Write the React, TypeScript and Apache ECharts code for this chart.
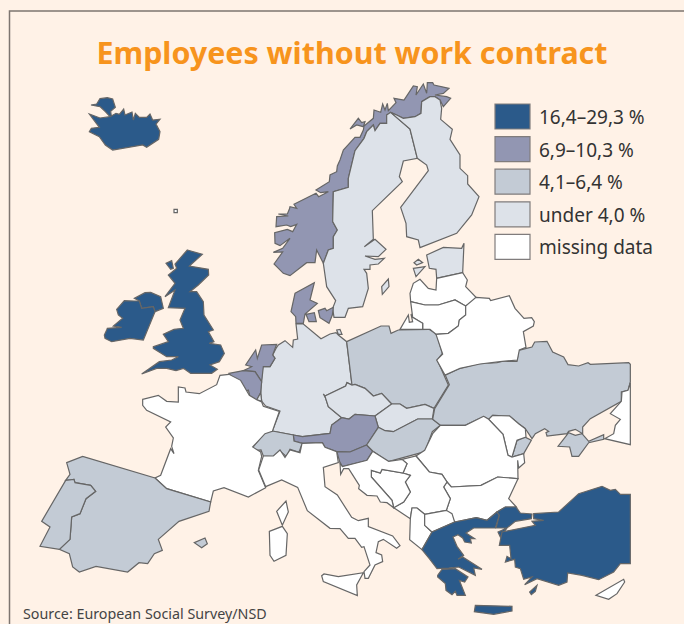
import React, { useEffect, useRef } from "react";
import * as echarts from "echarts";

const title = "Employees without work contract";
const source = "Source: European Social Survey/NSD";
const legendLabels = ["16,4–29,3 %", "6,9–10,3 %", "4,1–6,4 %", "under 4,0 %", "missing data"];
const classColors = ["#2B5A8A", "#9296B2", "#C3CBD5", "#DDE2E9", "#FFFFFF"];

const class0 = ["Iceland", "United Kingdom", "Ireland", "Northern Ireland", "Greece", "Turkey", "Turkey Europe"];
const class1 = ["Norway", "Denmark", "Netherlands", "Belgium", "Austria", "Slovenia"];
const class2 = ["Spain", "Portugal", "Poland", "Hungary", "Ukraine", "Switzerland"];
const class3 = ["Sweden", "Finland", "Germany", "Luxembourg", "Czechia", "Slovakia", "Estonia"];
const class4 = ["Faroe", "France", "Italy", "Croatia", "Bosnia", "Serbia", "Romania", "Moldova", "Bulgaria", "Macedonia", "Albania", "Latvia", "Lithuania", "Kaliningrad", "Belarus", "Russia", "Cyprus"];
const classes = [class0, class1, class2, class3, class4];

// Outline traces, in zoomed-crop units (3x) from a crop origin.
type Outline = [number, number, number[]];
const Z1: [number, number] = [0, 0];
const Z3: [number, number] = [0, 312];
const Z4: [number, number] = [342, 312];
const Z5: [number, number] = [225, 270];
const Z6: [number, number] = [100, 240];
const Z7: [number, number] = [260, 80];
const Z8: [number, number] = [250, 430];
const Z9: [number, number] = [400, 240];

const outlines: Record<string, Outline[]> = {
  Iceland: [[...Z1, [300,296,322,293,338,297,346,322,332,334,334,348,348,340,358,343,371,327,375,345,396,336,400,360,406,340,418,352,440,352,450,342,458,360,480,358,468,372,480,395,476,418,440,442,428,435,338,450,316,435,298,410,268,395,274,385,298,382,268,342,300,354,330,350,316,335,300,320,273,315,290,312]]],
  Faroe: [[...Z1, [522,628,532,628,532,638,522,638]]],
  "United Kingdom": [
    [...Z6, [262,30,307,43,268,78,325,88,326,105,295,135,270,155,290,155,310,185,312,225,340,270,325,275,342,305,328,310,362,315,373,340,358,365,330,375,352,388,335,400,272,400,250,385,228,392,200,385,170,385,125,402,178,365,215,360,235,350,200,350,160,325,160,320,205,305,190,283,222,268,250,265,240,240,255,205,205,203,225,150,195,170,225,130,205,105,230,85,225,72]],
    [...Z6, [198,70,215,62,220,85,212,88]],
  ],
  "Northern Ireland": [[...Z6, [103,175,135,158,152,157,182,170,190,205,165,215,160,200,125,205,118,183]]],
  Ireland: [[...Z6, [50,208,73,182,103,183,118,183,125,205,160,200,165,215,130,300,90,295,35,305,15,295,13,285,20,270,22,265,65,262,40,258,68,235,55,225]]],
  Norway: [
    [...Z7, [42,552,68,516,40,517,68,505,90,475,60,497,45,490,44,458,82,448,98,455,110,433,92,440,80,435,48,440,50,410,85,408,55,402,82,402,88,388,90,380,110,385,102,373,168,340,176,350,205,335,182,338,168,330,208,305,210,285,230,275,232,258,240,240,250,210,285,172,300,172,310,150,312,138,340,115,342,90,362,97,368,72,375,90,382,70,385,92,408,68,402,55,432,60,460,18,472,20,468,45,490,12,500,40,502,8,518,8,522,15,567,25,550,40,525,45,560,50,572,55,550,80,540,60,525,50,510,50,485,65,483,100,465,110,430,115,410,105,392,97,380,105,380,130,360,130,345,152,340,135,320,155,312,175,285,212,265,295,265,322,220,335,218,425,232,450,220,470,220,505,205,510,190,550,170,510,165,548,140,548,90,587,70,580]],
    [...Z7, [270,147,295,115,305,128,315,125,310,140,290,135]],
  ],
  Sweden: [
    [...Z7, [392,97,450,147,472,235,430,243,418,290,427,305,337,392,340,478,313,500,345,478,378,508,355,530,315,528,345,538,373,535,355,552,330,555,330,568,312,568,320,580,325,625,308,680,265,685,255,712,222,712,218,685,227,662,200,620,190,550,205,510,220,505,220,470,232,450,218,425,220,335,265,322,265,295,285,212,312,175,320,155,340,135,345,152,360,130,380,130,380,105]],
    [...Z7, [365,620,385,597,387,620,367,643]],
  ],
  Finland: [[...Z7, [392,97,410,105,430,115,465,110,483,100,485,65,510,50,525,50,540,60,545,85,542,118,577,148,570,178,600,225,600,265,623,287,623,312,657,350,635,405,590,460,480,503,475,480,440,470,438,430,422,382,505,272,500,255,472,235,450,147]]],
  Denmark: [
    [...Z5, [210,70,268,38,255,90,277,100,240,132,235,160,213,160,212,140,198,125]],
    [...Z5, [243,133,268,128,274,155,252,155]],
    [...Z5, [280,122,300,115,305,122,325,112,322,135,312,160,285,143]],
  ],
  Germany: [
    [...Z5, [213,162,235,162,288,206,315,192,333,188,340,195,365,215,381,345,366,338,362,348,300,378,295,372,302,385,310,410,350,443,320,465,315,490,232,500,205,495,142,483,165,423,122,408,110,393,107,368,112,290,135,290,150,265,143,255,155,232,160,225,180,212,203,232,205,210,218,207]],
    [...Z5, [335,180,345,178,351,193,340,193]],
  ],
  Netherlands: [[...Z5, [110,225,155,223,143,255,150,265,135,290,115,290,110,335,90,305,55,302,80,290,62,285,92,240,97,265]]],
  Belgium: [[...Z5, [12,310,55,302,90,305,110,335,107,368,95,390,75,380,70,360,50,368,45,345]]],
  Luxembourg: [[...Z5, [95,390,107,368,110,393]]],
  Poland: [[...Z5, [365,215,468,168,492,168,498,190,520,180,612,178,635,192,652,250,637,270,670,345,627,415,600,403,545,415,525,402,500,402,470,370,445,378,420,355,390,343,381,345]]],
  Czechia: [[...Z5, [300,378,362,348,366,338,381,345,390,343,420,355,445,378,470,370,500,402,450,438,390,433,372,447,350,443,310,410,302,385]]],
  Slovakia: [[...Z5, [450,438,500,402,525,402,545,415,600,403,627,415,622,447,578,447,505,485,480,482,460,472]]],
  Austria: [[...Z5, [205,495,232,500,315,490,320,465,350,443,372,447,390,433,450,438,460,472,425,525,375,546,335,545,300,532,292,518,232,520,207,513]]],
  Slovenia: [[...Z5, [335,545,375,546,425,525,443,543,425,572,352,590,345,578,337,550]]],
  Hungary: [[...Z5, [425,525,460,472,480,482,505,485,578,447,622,447,647,465,622,485,600,545,490,575,443,543]]],
  Switzerland: [[...Z5, [122,484,142,483,205,495,207,513,232,520,222,547,195,538,185,560,165,543,145,560,115,558,108,540,85,542,85,530]]],
  Ukraine: [
    [...Z4, [310,190,350,170,410,155,465,152,478,148,525,148,530,115,570,105,578,90,615,88,632,120,665,135,678,158,710,162,738,152,745,157,860,152,865,157,865,210,858,235,838,240,838,268,745,320,722,345,722,365,700,352,680,358,675,365,615,372,612,362,620,358,608,350,580,365,570,380,550,350,530,335,503,312,452,310,440,322,425,313,370,340,295,340,272,322,278,290,322,218]],
    [...Z4, [510,435,525,385,548,375,568,385,545,425]],
    [...Z4, [648,403,680,362,700,370,720,365,740,388,785,368,785,382,740,392,710,433,690,433,683,405]],
  ],
  Moldova: [[...Z4, [440,322,452,310,503,312,530,335,550,350,552,375,525,385,510,435,498,430,483,367]]],
  Russia: [[...Z4, [865,212,858,235,840,240,838,268,805,305,835,322,820,340,815,365,788,380,865,398]]],
  Romania: [[...Z4, [295,340,370,340,425,313,440,322,483,367,498,430,510,435,545,425,548,452,530,468,527,445,528,500,467,495,417,520,328,525,315,510,300,487,262,480,222,432,248,415,272,365]]],
  Bulgaria: [[...Z4, [328,525,417,520,467,495,528,500,500,560,523,585,490,585,465,600,435,625,403,617,338,630,313,595,325,560,305,525,315,510]]],
  Serbia: [[...Z4, [222,432,262,480,300,487,315,510,305,525,325,560,313,595,248,607,225,588,210,588,205,620,155,587,185,570,205,540,190,510,205,490,183,483,195,455,180,442]]],
  Bosnia: [[...Z4, [88,475,115,483,120,472,183,483,205,490,190,510,205,540,185,570,155,587,150,565,88,495]]],
  Croatia: [[...Z4, [-6,452,1,464,75,445,92,418,140,448,180,442,195,455,183,483,120,472,115,483,88,475,88,495,150,565,155,587,135,572,115,570,105,552,75,550,50,530,52,520,20,470,5,470,-4,487]]],
  Albania: [[...Z4, [210,588,225,588,248,607,248,640,270,660,240,713,203,683,205,620]]],
  Macedonia: [[...Z4, [248,607,313,595,330,605,338,630,270,660,248,640]]],
  Greece: [
    [...Z4, [240,713,270,660,338,630,403,617,435,625,465,600,472,610,460,648,395,648,372,663,398,680,385,680,388,693,368,690,362,678,348,668,333,675,345,703,365,730,348,742,362,735,420,772,395,768,400,790,350,765,320,768,285,770,262,740]],
    [...Z4, [287,790,300,772,340,770,378,795,368,810,352,805,370,850,345,850,340,838,330,848,312,835,310,815,287,795]],
    [...Z4, [400,880,510,883,510,897,455,907,397,899]],
    [...Z4, [563,840,585,820,580,838,568,848]],
  ],
  "Turkey Europe": [
    [...Z4, [465,600,490,585,522,585,535,603,570,606,568,620,520,628,495,648,462,648,472,610]],
    [...Z4, [468,660,495,648,475,675]],
  ],
  Turkey: [[...Z4, [575,605,650,600,710,545,780,523,805,535,820,532,835,547,865,547,865,755,835,755,815,780,770,803,720,790,677,783,675,810,650,820,585,800,548,818,570,795,545,802,535,770,520,765,518,742,490,750,495,733,507,740,503,700,472,700,480,660,580,640,570,628,605,625,575,620]]],
  Cyprus: [[...Z4, [762,850,845,802,848,810,825,845,800,862]]],
  Estonia: [
    [...Z9, [80,45,130,22,185,25,192,10,188,98,110,115,108,88,88,85]],
    [...Z9, [42,68,55,58,68,68,50,75]],
    [...Z9, [40,85,75,80,48,110]],
  ],
  Latvia: [[...Z9, [30,160,40,130,60,118,85,145,108,150,110,115,188,98,202,120,197,140,228,172,212,190,197,198,165,180,115,195,75,195,32,185]]],
  Lithuania: [[...Z9, [32,185,75,195,115,195,165,180,197,198,197,225,178,240,175,258,145,280,108,283,90,268,68,268,68,250,38,232]]],
  Kaliningrad: [[...Z9, [0,268,25,225,28,247,38,245,33,222,38,232,68,250,68,268]]],
  Belarus: [[...Z9, [197,198,228,172,268,175,272,182,328,167,345,205,372,235,395,233,403,245,400,258,370,275,378,322,358,330,352,360,300,365,240,372,180,385,135,405,110,360,128,342,108,283,145,280,175,258,178,240,197,225]]],
  France: [[...Z3, [428,262,475,250,500,268,535,270,535,225,555,228,558,240,598,245,650,218,660,190,687,187,722,205,748,250,770,263,785,270,790,283,838,298,817,358,795,365,758,405,782,420,785,433,775,475,797,527,745,555,672,527,640,537,632,570,500,530,465,498,482,490,512,410,522,425,515,403,520,378,497,345,512,330,440,295,428,280]]],
  Spain: [
    [...Z3, [200,452,248,433,465,498,500,530,632,570,627,598,537,628,475,682,487,715,463,725,443,755,417,752,383,780,288,763,238,780,218,765,208,725,178,712,210,682,215,615,240,605,258,560,287,538,272,520,225,512,222,502,197,505,210,487]],
    [...Z3, [583,692,615,678,622,695,605,707]],
  ],
  Portugal: [[...Z3, [197,505,222,502,225,512,272,520,287,538,258,560,240,605,215,615,210,682,178,712,120,703,150,645,125,628]]],
  Italy: [
    [...Z8, [40,78,70,78,90,60,105,82,120,60,150,68,156,40,217,38,225,52,260,65,265,98,220,112,225,170,262,195,305,262,325,272,355,265,355,290,428,318,450,347,440,355,400,328,385,335,378,368,395,375,398,395,375,405,355,445,345,445,342,425,360,405,342,350,335,352,315,325,295,325,270,296,240,295,172,242,143,172,95,150,47,170,26,120]],
    [...Z8, [215,437,222,432,265,440,340,428,320,465,322,497,220,455]],
    [...Z3, [830,598,858,567,865,600,847,640]],
    [...Z3, [808,658,847,643,862,665,858,730,822,748,810,730]],
  ],
};

const features = Object.keys(outlines).map((name) => ({
  type: "Feature",
  properties: { name },
  geometry: {
    type: "MultiPolygon",
    coordinates: outlines[name].map(([ox, oy, p]) => {
      const ring: number[][] = [];
      for (let i = 0; i < p.length; i += 2) ring.push([ox + p[i] / 3, -(oy + p[i + 1] / 3)]);
      ring.push(ring[0]);
      return [ring];
    }),
  },
}));

export default function App() {
  const ref = useRef<HTMLDivElement>(null);
  useEffect(() => {
    document.body.style.margin = "0";
    echarts.registerMap("europe", { type: "FeatureCollection", features } as any);
    const chart = echarts.init(ref.current!, null, { renderer: "svg" });
    const font = "'Noto Sans', sans-serif";
    chart.setOption({
      animation: false,
      backgroundColor: "#FFF2E7",
      series: [
        {
          type: "map",
          map: "europe",
          roam: false,
          silent: true,
          aspectScale: 1,
          boundingCoords: [[0, 0], [684, -624]],
          left: 0,
          top: 0,
          width: 684,
          height: 624,
          label: { show: false },
          emphasis: { disabled: true },
          select: { disabled: true },
          itemStyle: { borderColor: "#666666", borderWidth: 1.2, areaColor: "#FFFFFF" },
          data: classes.flatMap((names, c) =>
            names.map((name) => ({ name, value: c, itemStyle: { areaColor: classColors[c] } }))
          ),
        },
      ],
      graphic: [
        { type: "polyline", silent: true, shape: { points: [[684, 11], [9.5, 11], [9.5, 624]] }, style: { fill: "none", stroke: "#7D7570", lineWidth: 1.5 } },
        { type: "text", x: 352, y: 52, silent: true, style: { text: title, fill: "#F7941D", font: `bold 30.4px ${font}`, textAlign: "center", textVerticalAlign: "middle" } },
        { type: "text", x: 23, y: 613, silent: true, style: { text: source, fill: "#444444", font: `14.3px ${font}`, textVerticalAlign: "middle" } },
        ...legendLabels.flatMap((label, i) => [
          { type: "rect", silent: true, shape: { x: 495, y: 104 + i * 32.6, width: 35, height: 25 }, style: { fill: classColors[i], stroke: "#807C7C", lineWidth: 1.2 } },
          { type: "text", x: 539, y: 117 + i * 32.6, silent: true, style: { text: label, fill: "#333333", font: `19px ${font}`, textVerticalAlign: "middle" } },
        ]),
      ],
    });
    return () => chart.dispose();
  }, []);
  return <div ref={ref} style={{ width: 684, height: 624 }} />;
}
